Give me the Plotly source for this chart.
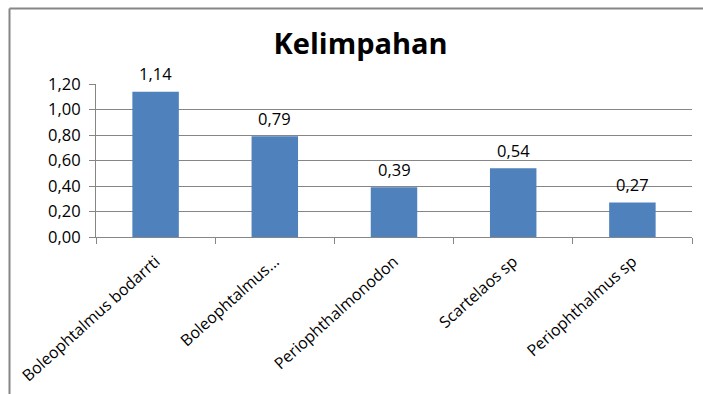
import plotly.graph_objects as go

categories = ["Boleophtalmus bodarrti", "Boleophtalmus...", "Periophthalmonodon", "Scartelaos sp", "Periophthalmus sp"]
values = [1.14, 0.79, 0.39, 0.54, 0.27]
y_ticks = [0, 0.2, 0.4, 0.6, 0.8, 1.0, 1.2]
title_text = "Kelimpahan"

FONT = "Open Sans"
GRAY = "#868686"
W, H = 703, 394
ML, MR, MT, MB = 96, 11, 84, 157
PW, PH = W - ML - MR, H - MT - MB

fig = go.Figure()
fig.add_trace(go.Bar(x=categories, y=values, marker=dict(color="#4F81BD", line=dict(width=0)),
                     hoverinfo="skip"))

for c, v in zip(categories, values):
    fig.add_annotation(x=c, y=v, text=f"{v:.2f}".replace(".", ","), showarrow=False,
                       yanchor="middle", yshift=18, font=dict(family=FONT, size=16.5, color="#000"))

def px2x(px):
    return (px - ML) / PW

def py2y(py):
    return (H - MB - py) / PH

bx0, by0 = px2x(9.5), py2y(8.5)
fig.add_shape(type="line", xref="paper", yref="paper", x0=bx0, y0=by0, x1=px2x(710), y1=by0,
              line=dict(color=GRAY, width=2))
fig.add_shape(type="line", xref="paper", yref="paper", x0=bx0, y0=by0, x1=bx0, y1=py2y(400),
              line=dict(color=GRAY, width=2))

fig.update_layout(
    width=W, height=H,
    margin=dict(l=ML, r=MR, t=MT, b=MB, autoexpand=False),
    paper_bgcolor="white", plot_bgcolor="white",
    separators=",.",
    bargap=0.61,
    showlegend=False,
    title=dict(text=f"<b>{title_text}</b>", x=0.513, xanchor="center", y=1 - 44 / H, yanchor="middle",
               font=dict(family=FONT, size=29, color="#000")),
    font=dict(family=FONT, size=16, color="#000"),
    xaxis=dict(showline=True, linecolor=GRAY, linewidth=1, ticks="outside", tickson="boundaries",
               ticklen=6, tickcolor=GRAY, tickangle=-42, tickfont=dict(family=FONT, size=16),
               ticklabelstandoff=8, showgrid=False, automargin=False),
    yaxis=dict(range=[0, 1.2], tickvals=y_ticks, tickformat=".2f", showline=True, linecolor=GRAY,
               linewidth=1, ticks="outside", ticklen=6, tickcolor=GRAY, showgrid=True,
               gridcolor=GRAY, gridwidth=1, zeroline=False, tickfont=dict(family=FONT, size=16.5),
               ticklabelstandoff=5, automargin=False),
)

fig.write_html("out.html")
